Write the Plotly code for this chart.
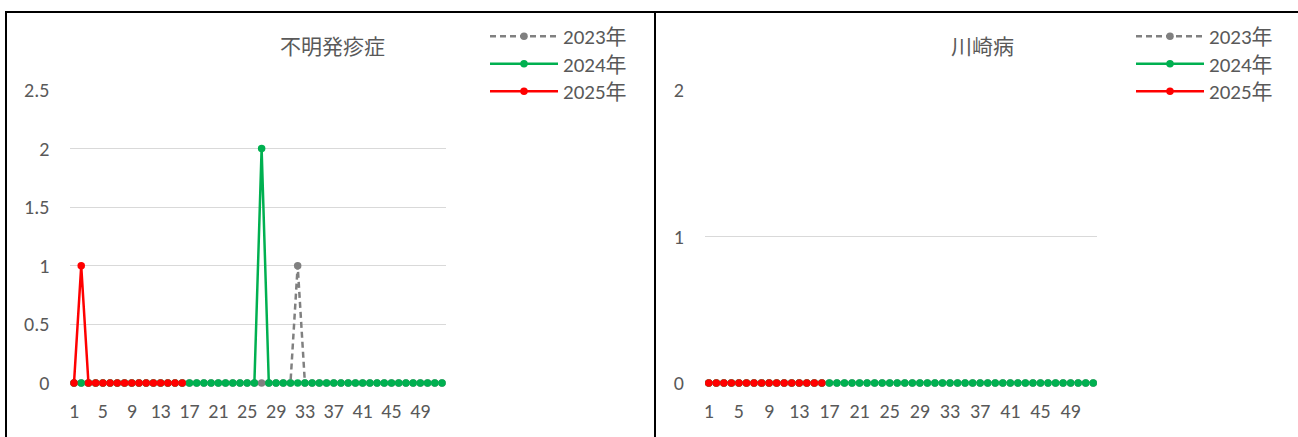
import plotly.graph_objects as go

W, H = 1298, 437

weeks = list(range(1, 53))
x_tickvals = [1, 5, 9, 13, 17, 21, 25, 29, 33, 37, 41, 45, 49]
x_ticktext = ["1", "5", "9", "13", "17", "21", "25", "29", "33", "37", "41", "45", "49"]

# 不明発疹症
fumei_2023 = [0, 0, 0, 0, 0, 0, 0, 0, 0, 0, 0, 0, 0, 0, 0, 0, 0, 0, 0, 0, 0, 0, 0, 0, 0, 0,
              0, 0, 0, 0, 0, 1, 0, 0, 0, 0, 0, 0, 0, 0, 0, 0, 0, 0, 0, 0, 0, 0, 0, 0, 0, 0]
fumei_2024 = [0, 0, 0, 0, 0, 0, 0, 0, 0, 0, 0, 0, 0, 0, 0, 0, 0, 0, 0, 0, 0, 0, 0, 0, 0, 0,
              2, 0, 0, 0, 0, 0, 0, 0, 0, 0, 0, 0, 0, 0, 0, 0, 0, 0, 0, 0, 0, 0, 0, 0, 0, 0]
fumei_2025 = [0, 1, 0, 0, 0, 0, 0, 0, 0, 0, 0, 0, 0, 0, 0, 0]

# 川崎病
kawasaki_2023 = [0, 0, 0, 0, 0, 0, 0, 0, 0, 0, 0, 0, 0, 0, 0, 0, 0, 0, 0, 0, 0, 0, 0, 0, 0, 0,
                 0, 0, 0, 0, 0, 0, 0, 0, 0, 0, 0, 0, 0, 0, 0, 0, 0, 0, 0, 0, 0, 0, 0, 0, 0, 0]
kawasaki_2024 = [0, 0, 0, 0, 0, 0, 0, 0, 0, 0, 0, 0, 0, 0, 0, 0, 0, 0, 0, 0, 0, 0, 0, 0, 0, 0,
                 0, 0, 0, 0, 0, 0, 0, 0, 0, 0, 0, 0, 0, 0, 0, 0, 0, 0, 0, 0, 0, 0, 0, 0, 0, 0]
kawasaki_2025 = [0, 0, 0, 0, 0, 0, 0, 0, 0, 0, 0, 0, 0, 0, 0, 0]

series_names = ["2023年", "2024年", "2025年"]
colors = ["#808080", "#00B050", "#FF0000"]
dashes = ["6px,4px", "solid", "solid"]

FONT = "Carlito, Calibri, Lato, 'Noto Sans CJK JP', sans-serif"
JFONT = "'Noto Sans CJK JP', sans-serif"
TXT = "#595959"
FS = 20


def px_x(p):
    return p / W


def px_y(p):
    return 1 - p / H


fig = go.Figure()

# one legend per entry so that rows can be spaced like the original
legend_x = {"left": 485, "right": 1131}
legend_rows = [36, 63.5, 91]

panels = [
    ("x", "y", "left", [fumei_2023, fumei_2024, fumei_2025]),
    ("x2", "y2", "right", [kawasaki_2023, kawasaki_2024, kawasaki_2025]),
]
legend_layout = {}
k = 0
for xa, ya, side, data in panels:
    for i, (name, col, dsh, vals) in enumerate(zip(series_names, colors, dashes, data)):
        k += 1
        lname = "legend" if k == 1 else f"legend{k}"
        fig.add_trace(go.Scatter(
            x=weeks[:len(vals)], y=vals, name=name, mode="lines+markers",
            line=dict(color=col, width=2.5, dash=dsh),
            marker=dict(color=col, size=7.5, symbol="circle"),
            xaxis=xa, yaxis=ya, legend=lname, cliponaxis=False,
        ))
        legend_layout[lname] = dict(
            x=px_x(legend_x[side]), y=px_y(legend_rows[i] - 20),
            xanchor="left", yanchor="top",
            font=dict(family=FONT, size=21, color=TXT), itemwidth=68,
            bgcolor="rgba(0,0,0,0)",
        )

common_x = dict(
    type="linear", range=[0.5, 52.5], tickvals=x_tickvals, ticktext=x_ticktext,
    showgrid=False, zeroline=False, showline=False, ticks="",
    tickfont=dict(family=FONT, size=FS, color=TXT), ticklabelstandoff=14,
)
common_y = dict(
    showgrid=True, gridcolor="#D9D9D9", gridwidth=1.3, zeroline=False, showline=False,
    ticks="", tickfont=dict(family=FONT, size=FS, color=TXT), ticklabelstandoff=20,
)

fig.update_layout(
    width=W, height=H,
    margin=dict(l=0, r=0, t=0, b=0, autoexpand=False),
    paper_bgcolor="white", plot_bgcolor="white",
    showlegend=True,
    xaxis=dict(domain=[px_x(70.4), px_x(445.6)], anchor="y", **common_x),
    yaxis=dict(domain=[px_y(383), px_y(90)], anchor="x", range=[0, 2.5], dtick=0.5, **common_y),
    xaxis2=dict(domain=[px_x(705), px_x(1097)], anchor="y2", **common_x),
    yaxis2=dict(domain=[px_y(383), px_y(90)], anchor="x2", range=[0, 2], dtick=1, **common_y),
    annotations=[
        dict(text="不明発疹症", x=px_x(332), y=px_y(45), xref="paper", yref="paper",
             xanchor="center", yanchor="middle",
             showarrow=False, font=dict(family=JFONT, size=21, color=TXT)),
        dict(text="川崎病", x=px_x(983), y=px_y(45), xref="paper", yref="paper",
             xanchor="center", yanchor="middle",
             showarrow=False, font=dict(family=JFONT, size=21, color=TXT)),
    ],
    shapes=[
        dict(type="rect", xref="paper", yref="paper", x0=px_x(6), x1=px_x(655),
             y0=px_y(470), y1=px_y(12), line=dict(color="black", width=2)),
        dict(type="rect", xref="paper", yref="paper", x0=px_x(655), x1=px_x(1320),
             y0=px_y(470), y1=px_y(12), line=dict(color="black", width=2)),
    ],
    **legend_layout,
)

fig.write_html("out.html", config={"displayModeBar": False},
               post_script="document.body.style.margin='0';")
